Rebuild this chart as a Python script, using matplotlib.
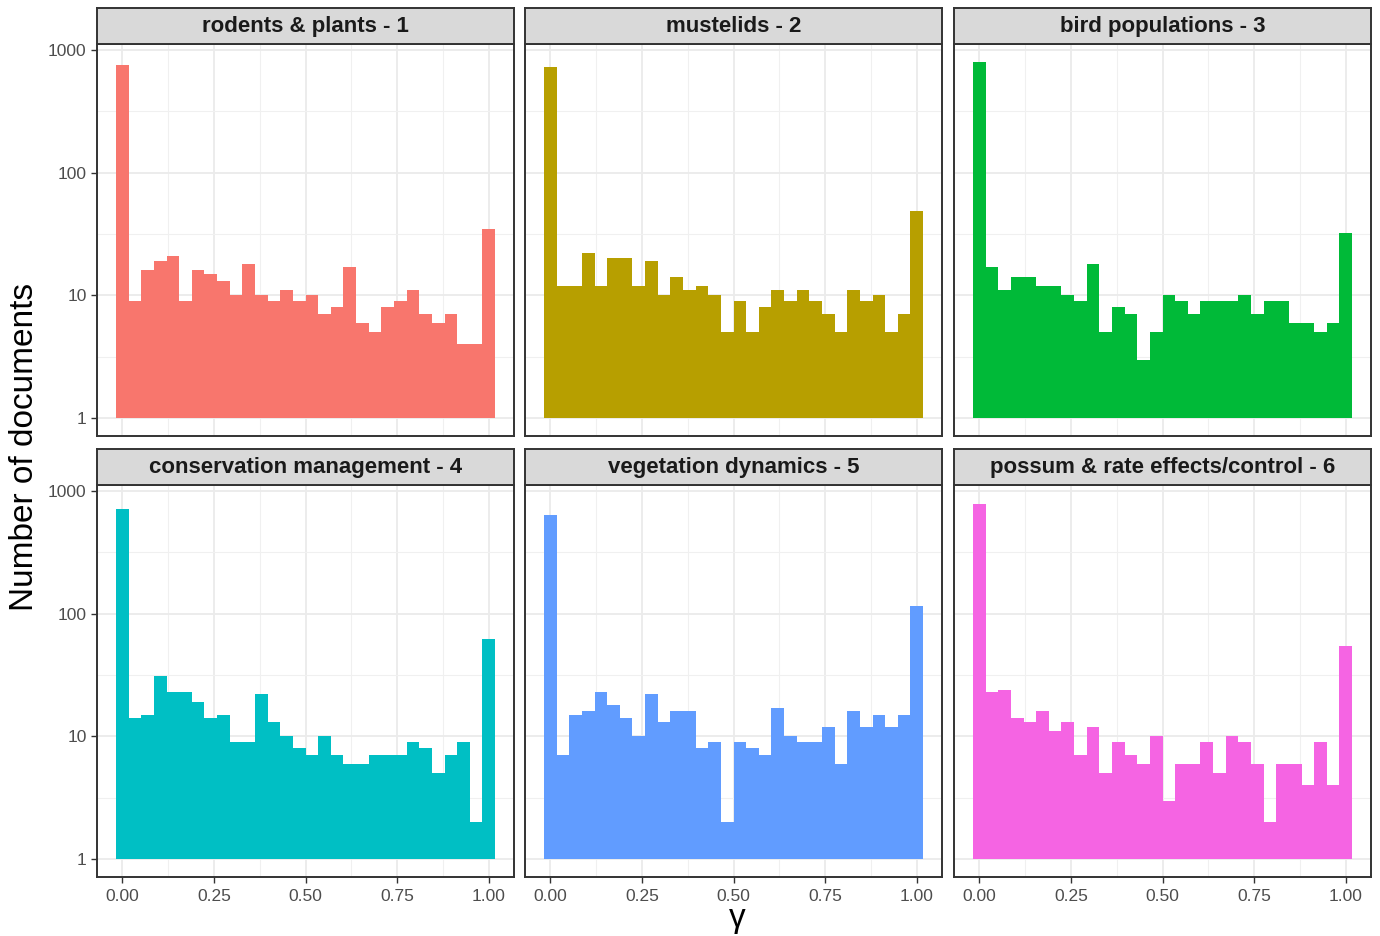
import numpy as np
import matplotlib
matplotlib.use('Agg')
import matplotlib.pyplot as plt

plt.rcParams['font.family'] = ['Liberation Sans', 'DejaVu Sans']

# topic names and counts per bin (30 bins over gamma 0..1)
topics = ['rodents & plants - 1', 'mustelids - 2', 'bird populations - 3',
          'conservation management - 4', 'vegetation dynamics - 5',
          'possum & rate effects/control - 6']
colors = ['#F8766D', '#B79F00', '#00BA38', '#00BFC4', '#619CFF', '#F564E3']

counts_1 = [755, 9, 16, 19, 21, 9, 16, 15, 13, 10, 18, 10, 9, 11, 9,
            10, 7, 8, 17, 6, 5, 8, 9, 11, 7, 6, 7, 4, 4, 35]
counts_2 = [727, 12, 12, 22, 12, 20, 20, 12, 19, 10, 14, 11, 12, 10, 5,
            9, 5, 8, 11, 9, 11, 9, 7, 5, 11, 9, 10, 5, 7, 49]
counts_3 = [798, 17, 11, 14, 14, 12, 12, 10, 9, 18, 5, 8, 7, 3, 5,
            10, 9, 7, 9, 9, 9, 10, 7, 9, 9, 6, 6, 5, 6, 32]
counts_4 = [713, 14, 15, 31, 23, 23, 19, 14, 15, 9, 9, 22, 13, 10, 8,
            7, 10, 7, 6, 6, 7, 7, 7, 9, 8, 5, 7, 9, 2, 62]
counts_5 = [637, 7, 15, 16, 23, 18, 14, 10, 22, 13, 16, 16, 8, 9, 2,
            9, 8, 7, 17, 10, 9, 9, 12, 6, 16, 12, 15, 12, 15, 115]
counts_6 = [784, 23, 24, 14, 13, 16, 11, 13, 7, 12, 5, 9, 7, 6, 10,
            3, 6, 6, 9, 5, 10, 9, 6, 2, 6, 6, 4, 9, 4, 54]
all_counts = [counts_1, counts_2, counts_3, counts_4, counts_5, counts_6]

xticks = [0.0, 0.25, 0.5, 0.75, 1.0]
xticklabels = ['0.00', '0.25', '0.50', '0.75', '1.00']
yticks = [1, 10, 100, 1000]

nbins = 30
centers = np.linspace(0, 1, nbins)
binw = centers[1] - centers[0]

W, H = 1380, 936
fig = plt.figure(figsize=(W / 100, H / 100), dpi=100)

# shared limits, ggplot style 5% expansion
xlo, xhi = -binw / 2, 1 + binw / 2
xpad = (xhi - xlo) * 0.05
ymax = np.log10(max(max(c) for c in all_counts))
ypad = ymax * 0.05

col_x = [97, 525, 954]
panel_w = 417
row_strip = [8, 449]
strip_h = 36
panel_h = 392

dark = '#333333'
for i, (name, counts) in enumerate(zip(topics, all_counts)):
    r, c = divmod(i, 3)
    x0 = col_x[c]
    top = row_strip[r] + strip_h
    ax = fig.add_axes([x0 / W, 1 - (top + panel_h) / H, panel_w / W, panel_h / H])
    ax.bar(centers, np.array(counts) - 1, width=binw, bottom=1,
           color=colors[i], linewidth=0, zorder=2)
    ax.set_yscale('log')
    ax.set_xlim(xlo - xpad, xhi + xpad)
    ax.set_ylim(10 ** (-ypad), 10 ** (ymax + ypad))

    ax.set_xticks(xticks)
    ax.set_xticks([0.125, 0.375, 0.625, 0.875], minor=True)
    ax.set_yticks(yticks)
    ax.set_yticks([10 ** 0.5, 10 ** 1.5, 10 ** 2.5], minor=True)
    ax.grid(which='major', color='#EBEBEB', linewidth=1.3, zorder=0)
    ax.grid(which='minor', color='#F0F0F0', linewidth=0.8, zorder=0)
    ax.set_axisbelow(True)
    for s in ax.spines.values():
        s.set_color(dark)
        s.set_linewidth(1.4)
        s.set_zorder(5)

    ax.tick_params(which='minor', length=0)
    ax.tick_params(which='major', color=dark, length=4, width=1.0,
                   labelsize=12.5, labelcolor='#4D4D4D')
    if c == 0:
        ax.set_yticklabels(['1', '10', '100', '1000'])
    else:
        ax.tick_params(axis='y', which='major', length=0, labelleft=False)
    if r == 1:
        ax.set_xticklabels(xticklabels)
        ax.tick_params(axis='x', pad=4.5)
    else:
        ax.tick_params(axis='x', which='major', length=0, labelbottom=False)

    # strip header
    sax = fig.add_axes([x0 / W, 1 - top / H, panel_w / W, strip_h / H])
    sax.set_facecolor('#D9D9D9')
    sax.set_xticks([])
    sax.set_yticks([])
    for s in sax.spines.values():
        s.set_color(dark)
        s.set_linewidth(1.4)
    sax.text(0.5, 0.48, name, ha='center', va='center', fontsize=16,
             fontweight='bold', color='#1A1A1A', transform=sax.transAxes)

fig.text(25 / W, 1 - 447 / H, 'Number of documents', rotation=90,
         ha='center', va='center', fontsize=24, color='black')
fig.text(737 / W, 1 - 918 / H, 'γ', ha='center', va='center',
         fontsize=24, color='black')

fig.savefig('out.png', dpi=100)
